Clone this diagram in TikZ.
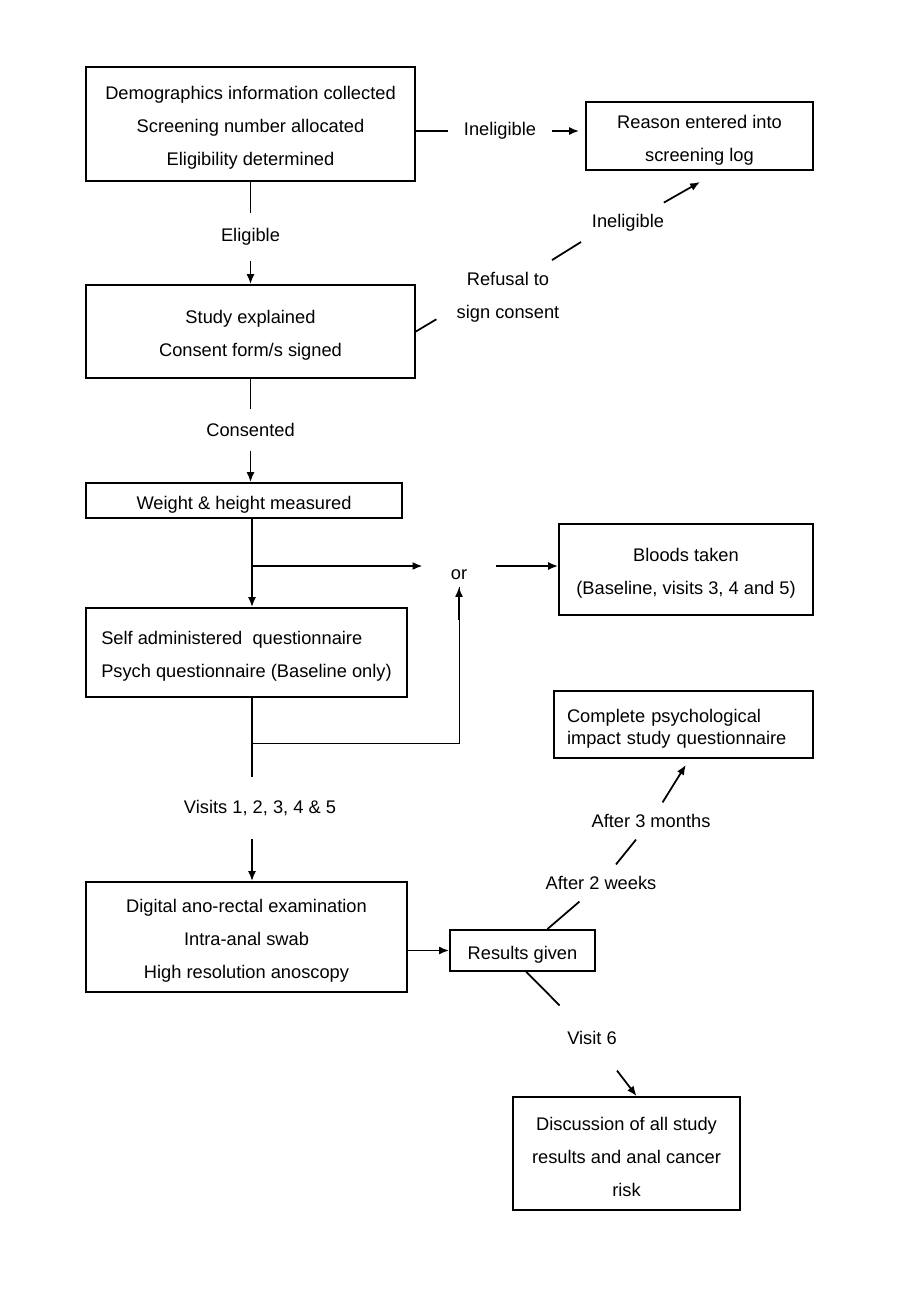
\documentclass[tikz,border=0pt]{standalone}
\usepackage{fontspec}
\setmainfont{Liberation Sans}
\usepackage{tikz}
\usetikzlibrary{arrows, arrows.meta, positioning, calc}
\newcommand{\tstrut}{\rule{0pt}{12pt}}

\begin{document}
\begin{tikzpicture}[x=0.02cm, y=-0.02cm, >={Latex[length=2mm, width=1.6mm]}, line width=1pt,
    box/.style={draw, align=center, inner sep=0pt, font=\fontsize{10.4pt}{18.8pt}\selectfont,
        execute at begin node={\tstrut}},
    lbl/.style={align=center, inner xsep=0.2cm, inner ysep=0.22cm, font=\fontsize{10.4pt}{18.8pt}\selectfont}]
\useasboundingbox (0,0) rectangle (911,1301);

% Boxes
\node[box, minimum width=6.58cm, minimum height=2.28cm] (demo) at (250.5,124) {\tstrut Demographics information collected\\Screening number allocated\\Eligibility determined};
\node[box, minimum width=4.54cm, minimum height=1.36cm] (reason) at (699.5,136) {\tstrut Reason entered into\\screening log};
\node[box, minimum width=6.58cm, minimum height=1.86cm] (study) at (250.5,331.5) {\tstrut Study explained\\Consent form/s signed};
\node[box, minimum width=6.32cm, minimum height=0.70cm] (weight) at (244,500.5) {Weight \& height measured};
\node[box, minimum width=5.08cm, minimum height=1.82cm] (bloods) at (686,569.5) {\tstrut Bloods taken\\(Baseline, visits 3, 4 and 5)};
\node[box, align=left, minimum width=6.42cm, minimum height=1.78cm] (selfq) at (246.5,652.5) {\tstrut Self administered~ questionnaire\\Psych questionnaire (Baseline only)};
\node[box, align=left, text width=4.66cm, minimum width=5.18cm, minimum height=1.34cm, font=\fontsize{10.4pt}{12.5pt}\selectfont, execute at begin node={}] (psych) at (683.5,724.5) {Complete psychological\\impact study questionnaire};
\node[box, minimum width=6.42cm, minimum height=2.20cm] (exam) at (246.5,937) {\tstrut Digital ano-rectal examination\\Intra-anal swab\\High resolution anoscopy};
\node[box, minimum width=2.90cm, minimum height=0.82cm] (results) at (522.5,950.5) {Results given};
\node[box, minimum width=4.54cm, minimum height=2.26cm] (discuss) at (626.5,1153.5) {\tstrut Discussion of all study\\results and anal cancer\\risk};

% Labels
\node[lbl, inner xsep=0.3cm] (inel1) at (500,131) {Ineligible};
\node[lbl, inner ysep=0.3cm] (elig) at (250.5,237) {Eligible};
\node[lbl] (refuse) at (508,297) {Refusal to\\sign consent};
\node[lbl] (inel2) at (628,223) {Ineligible};
\node[lbl, inner ysep=0.26cm] (consent) at (250.5,430) {Consented};
\node[lbl, inner xsep=0.55cm, inner ysep=0.12cm] (orlbl) at (459,575) {or};
\node[lbl, inner ysep=0.45cm] (visits) at (260,808) {Visits 1, 2, 3, 4 \& 5};
\node[lbl] (wk2) at (601,883) {After 2 weeks};
\node[lbl] (mo3) at (651,821) {After 3 months};
\node[lbl, inner ysep=0.5cm] (visit6) at (592,1038) {Visit 6};

% Screening and consent
\draw (demo.east |- inel1) -- (inel1);
\draw[->, shorten >=0.12cm] (inel1) -- (inel1 -| reason.west);
\draw (demo) -- (elig);
\draw[->] (elig) -- (study);
\draw[shorten >=0.22cm] (study.east) -- (refuse.195);
\draw (refuse.40) -- (inel2.202);
\draw[->, shorten >=0.45cm] (inel2) -- (reason.-60);
\draw (study) -- (consent);
\draw[->] (consent) -- (consent |- weight.north);

% Visits
\coordinate (br1) at (252,566);
\coordinate (br2) at (252,743);
\draw[->] (weight.south -| br1) -- (selfq.north -| br1);
\draw[->] (br1) -- (br1 -| orlbl.west);
\draw[->] (br1 -| orlbl.east) -- (br1 -| bloods.west);
\draw[line width=0.5pt] (br2) -| (orlbl.south);
\draw[->] ([yshift=-0.66cm]orlbl.south) -- (orlbl.south);
\draw (selfq.south -| br2) -- (br2 |- visits.north);
\draw[->] (br2 |- visits.south) -- (br2 |- exam.north);

% Results
\draw[->] (exam.east |- results.west) -- (results.west);
\draw (results) -- (wk2);
\draw (wk2) -- (mo3);
\draw[->, shorten >=0.14cm] (mo3) -- (psych.-80);
\draw (results.-80) -- (visit6);
\draw[->] (visit6) -- (discuss.80);
\end{tikzpicture}
\end{document}
